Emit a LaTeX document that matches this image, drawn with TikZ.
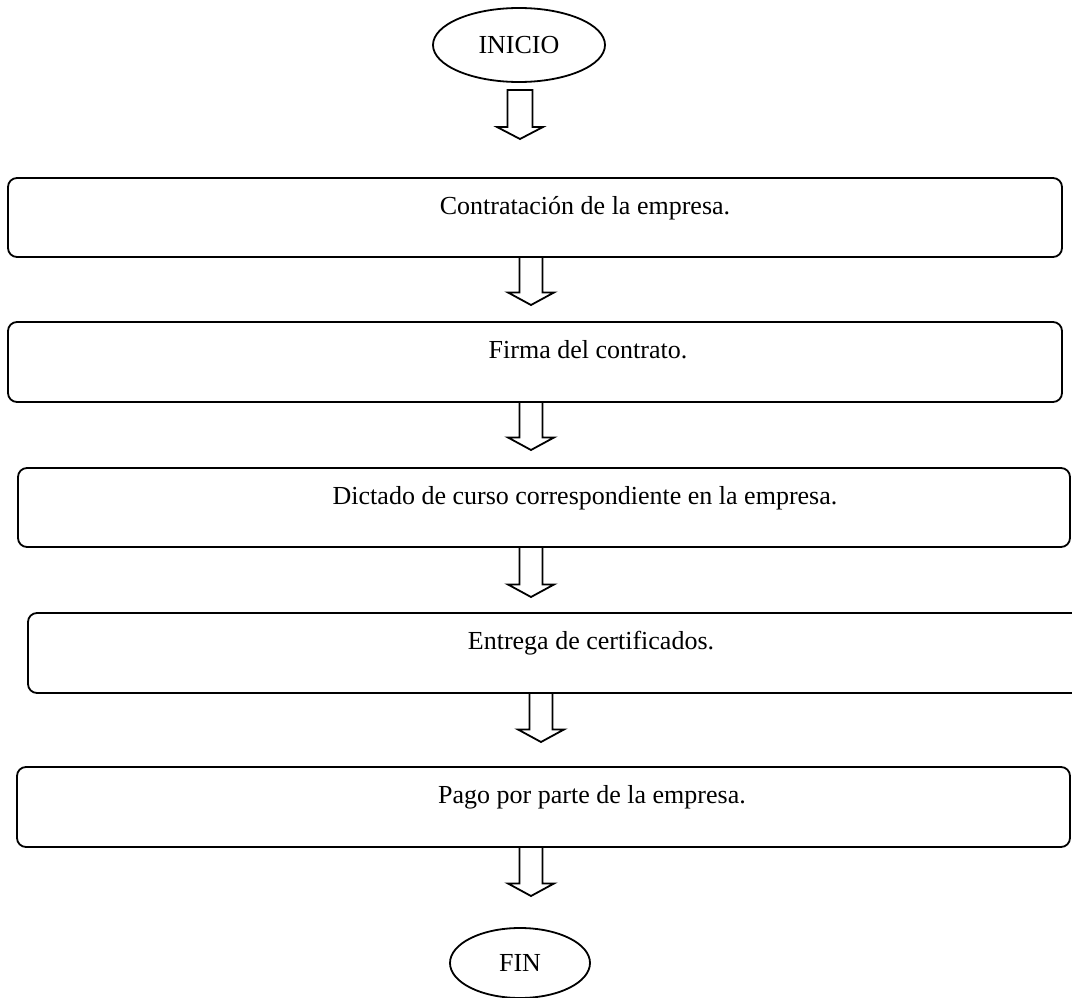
\documentclass[tikz,border=0pt]{standalone}
\usepackage{fontspec}
\setmainfont{Liberation Serif}
\usetikzlibrary{shapes.geometric}
\newcommand{\blockarrow}[4]{% name, cx, ytop, ytip
  \draw[barrow] (#2-11.5,#3) -- (#2-11.5,#4-12.5) -- (#2-23,#4-12.5) -- (#2,#4)
    coordinate (#1) -- (#2+23,#4-12.5) -- (#2+11.5,#4-12.5) -- (#2+11.5,#3) -- cycle;}
\begin{document}
\begin{tikzpicture}[x=1pt,y=-1pt,
  box/.style={draw, line width=1.8pt, rounded corners=9pt, inner sep=0pt, outer sep=0pt},
  term/.style={draw, ellipse, line width=1.8pt, inner sep=0pt, font=\fontsize{26}{31}\selectfont},
  lbl/.style={anchor=base, font=\fontsize{26}{31}\selectfont, inner sep=0pt},
  barrow/.style={draw, line width=1.8pt, fill=white, line join=miter}]
\clip (0,0) rectangle (1072,998);
\fill[white] (0,0) rectangle (1072,998);

\node[term, minimum width=172pt, minimum height=74pt] (inicio) at (519,45) {INICIO};

\node[box, minimum width=1054pt, minimum height=79pt] (b1) at (535,217.5) {};
\node[box, minimum width=1054pt, minimum height=80pt] (b2) at (535,362) {};
\node[box, minimum width=1052pt, minimum height=79pt] (b3) at (544,507.5) {};
\node[box, minimum width=1072pt, minimum height=80pt] (b4) at (564,653) {};
\node[box, minimum width=1053pt, minimum height=80pt] (b5) at (543.5,807) {};

\node[lbl] (t1) at (585,214) {Contratación de la empresa.};
\node[lbl] (t2) at (588,358) {Firma del contrato.};
\node[lbl] (t3) at (585,504) {Dictado de curso correspondiente en la empresa.};
\node[lbl] (t4) at (591,649) {Entrega de certificados.};
\node[lbl] (t5) at (592,803) {Pago por parte de la empresa.};

\node[term, minimum width=140pt, minimum height=70pt] (fin) at (520,963) {FIN};

\draw[barrow] (520-12.5,90) -- (520-12.5,127) -- (520-23,127) -- (520,139)
  -- (520+23,127) -- (520+12.5,127) -- (520+12.5,90) -- cycle;
\blockarrow{a2}{531}{257}{305}
\blockarrow{a3}{531}{402}{450}
\blockarrow{a4}{531}{547}{597}
\blockarrow{a5}{541}{693}{742}
\blockarrow{a6}{531}{847}{896}
\end{tikzpicture}
\end{document}
